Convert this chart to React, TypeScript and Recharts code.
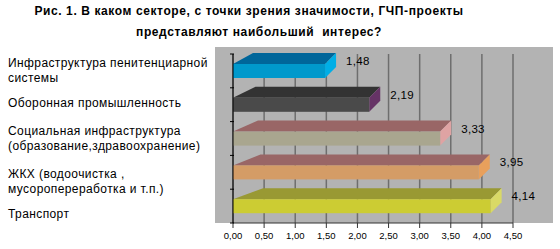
import { BarChart, Bar, XAxis, YAxis, CartesianGrid, LabelList } from "recharts";

const sectors = [
  "Инфраструктура пенитенциарной\nсистемы",
  "Оборонная промышленность",
  "Социальная инфраструктура\n(образование,здравоохранение)",
  "ЖКХ (водоочистка ,\nмусоропереработка и т.п.)",
  "Транспорт",
];
const scores = [1.48, 2.19, 3.33, 3.95, 4.14];
const xTicks = [0, 0.5, 1, 1.5, 2, 2.5, 3, 3.5, 4, 4.5];
const titleLines = [
  "Рис. 1. В каком секторе, с точки зрения значимости, ГЧП-проекты",
  "представляют наибольший  интерес?",
];

const data = sectors.map((sector, i) => ({ sector, score: scores[i] }));

// face colours of the pseudo-3d bars, top to bottom
const faces = [
  { front: "#0099cc", top: "#00669a", side: "#00aee6" },
  { front: "#4a4a4a", top: "#333333", side: "#663366" },
  { front: "#a9a68f", top: "#996666", side: "#dfa3a3" },
  { front: "#d49c66", top: "#996666", side: "#e8a05c" },
  { front: "#cccc33", top: "#999933", side: "#d9d966" },
];
// excel spreads the category labels a bit unevenly
const labelNudge = [0, -2, 0, 9, 8];

const FONT = "'Liberation Sans', Arial, sans-serif";
const DEPTH = 11;
const PLOT_TOP = 54;
const PLOT_H = 169;
const BAND = PLOT_H / sectors.length;

function Bar3D(props: any) {
  const { x, y, width, height, index } = props;
  const c = faces[index];
  const x1 = x + width;
  const slant = 20 + index * 2.5;
  const top = `${x},${y} ${x + slant},${y - DEPTH} ${x1 + DEPTH},${y - DEPTH} ${x1},${y}`;
  const side = `${x1},${y} ${x1 + DEPTH},${y - DEPTH} ${x1 + DEPTH},${y + height - DEPTH} ${x1},${y + height}`;
  return (
    <g>
      <polygon points={top} fill={c.top} />
      <polygon points={side} fill={c.side} />
      <rect x={x} y={y} width={width} height={height} fill={c.front} />
    </g>
  );
}

function ValueLabel(props: any) {
  const { x, y, width, value } = props;
  return (
    <text
      x={x + width + DEPTH + 10}
      y={y - 3}
      dominantBaseline="central"
      fontSize={11.5}
      letterSpacing={0.3}
      fontFamily={FONT}
      fill="#000"
    >
      {Number(value).toFixed(2).replace(".", ",")}
    </text>
  );
}

function SectorTick(props: any) {
  const { x, y, payload, index } = props;
  const lines = String(payload.value).split("\n");
  const start = y + labelNudge[index] - ((lines.length - 1) * 15) / 2;
  return (
    <g>
      <line x1={x + 5} x2={x + 9} y1={y - BAND / 2} y2={y - BAND / 2} stroke="#000" />
      {index === sectors.length - 1 && (
        <line x1={x + 5} x2={x + 9} y1={y + BAND / 2} y2={y + BAND / 2} stroke="#000" />
      )}
      <text
        x={8}
        y={start}
        fontSize={12}
        letterSpacing={0.4}
        fontFamily={FONT}
        fill="#000"
        dominantBaseline="central"
      >
        {lines.map((l, i) => (
          <tspan key={i} x={8} y={start + i * 15}>
            {l}
          </tspan>
        ))}
      </text>
    </g>
  );
}

export default function App() {
  return (
    <div
      style={{
        position: "absolute",
        left: 0,
        top: 0,
        width: 560,
        height: 249,
        background: "#fff",
        fontFamily: FONT,
      }}
    >
      <div
        style={{
          position: "absolute",
          left: 215,
          top: 47,
          width: 338,
          height: 176,
          background: "#b3b3b3",
        }}
      />
      <div
        style={{
          position: "absolute",
          left: 0,
          top: 4,
          width: 498,
          textAlign: "center",
          fontWeight: "bold",
          fontSize: 12,
          letterSpacing: 0.6,
        }}
      >
        {titleLines[0]}
      </div>
      <div
        style={{
          position: "absolute",
          left: 0,
          top: 25,
          width: 518,
          textAlign: "center",
          fontWeight: "bold",
          fontSize: 12,
          letterSpacing: 0.6,
          whiteSpace: "pre",
        }}
      >
        {titleLines[1]}
      </div>
      <div style={{ position: "absolute", left: 0, top: 0 }}>
        <BarChart
          width={560}
          height={249}
          data={data}
          layout="vertical"
          barSize={14}
          margin={{ top: PLOT_TOP, right: 47, bottom: 0, left: 8 }}
        >
          <CartesianGrid horizontal={false} stroke="#6e6e6e" strokeWidth={1.5} />
          <XAxis
            xAxisId="top"
            orientation="top"
            type="number"
            domain={[0, 4.5]}
            height={0}
            tick={false}
            tickLine={false}
            axisLine={{ stroke: "#6e6e6e", strokeWidth: 1.5 }}
          />
          <XAxis
            type="number"
            domain={[0, 4.5]}
            ticks={xTicks}
            height={26}
            interval={0}
            tickFormatter={(v: number) => v.toFixed(2).replace(".", ",")}
            tick={{ fill: "#000", fontSize: 9.5, fontFamily: FONT }}
            tickSize={5}
            tickMargin={4}
            axisLine={{ stroke: "#333" }}
            tickLine={{ stroke: "#333" }}
          />
          <YAxis
            type="category"
            dataKey="sector"
            width={225}
            tickLine={false}
            axisLine={{ stroke: "#000" }}
            tick={<SectorTick />}
            interval={0}
          />
          <Bar dataKey="score" shape={<Bar3D />} isAnimationActive={false}>
            <LabelList dataKey="score" content={<ValueLabel />} />
          </Bar>
        </BarChart>
      </div>
    </div>
  );
}
